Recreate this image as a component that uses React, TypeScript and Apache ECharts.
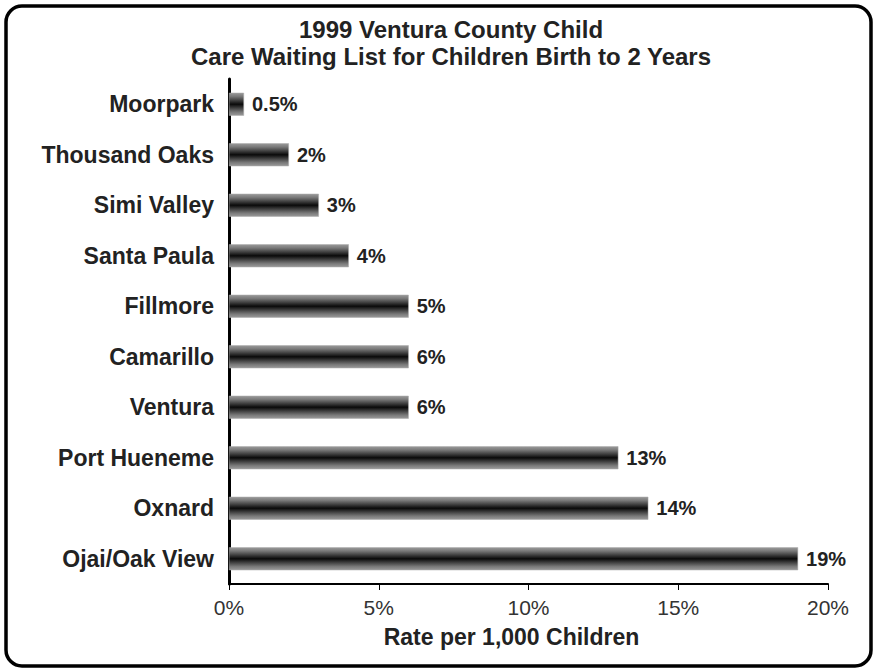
import React, { useEffect, useRef } from "react";
import * as echarts from "echarts";

const titleLines = ["1999 Ventura County Child", "Care Waiting List for Children Birth to 2 Years"];
const categories = [
  "Moorpark",
  "Thousand Oaks",
  "Simi Valley",
  "Santa Paula",
  "Fillmore",
  "Camarillo",
  "Ventura",
  "Port Hueneme",
  "Oxnard",
  "Ojai/Oak View",
];
const values = [0.5, 2, 3, 4, 6, 6, 6, 13, 14, 19];
const valueLabels = ["0.5%", "2%", "3%", "4%", "5%", "6%", "6%", "13%", "14%", "19%"];
const xTicks = [0, 5, 10, 15, 20];
const xAxisName = "Rate per 1,000 Children";

const FONT = "'Liberation Sans', Arial, sans-serif";

export default function App() {
  const ref = useRef<HTMLDivElement>(null);
  useEffect(() => {
    if (!ref.current) return;
    const chart = echarts.init(ref.current, null, { renderer: "svg" });
    const grad = new echarts.graphic.LinearGradient(0, 0, 0, 1, [
      { offset: 0, color: "#9a9a9a" },
      { offset: 0.15, color: "#7a7a7a" },
      { offset: 0.35, color: "#3a3a3a" },
      { offset: 0.5, color: "#0a0a0a" },
      { offset: 0.65, color: "#3a3a3a" },
      { offset: 0.85, color: "#7a7a7a" },
      { offset: 1, color: "#9a9a9a" },
    ]);
    chart.setOption({
      animation: false,
      backgroundColor: "#ffffff",
      title: {
        text: titleLines.join("\n"),
        left: 446,
        textAlign: "center",
        top: 11,
        textStyle: {
          fontFamily: FONT,
          fontSize: 24,
          fontWeight: "bold",
          color: "#222",
          lineHeight: 27,
        },
      },
      graphic: [
        {
          type: "rect",
          shape: { x: 6, y: 6, width: 865, height: 660, r: 16 },
          style: { fill: "none", stroke: "#000", lineWidth: 3.5 },
          silent: true,
          z: 100,
        },
      ],
      grid: { left: 229, right: 49, top: 79, bottom: 84, containLabel: false },
      xAxis: {
        type: "value",
        min: 0,
        max: 20,
        interval: 5,
        name: xAxisName,
        nameLocation: "middle",
        nameGap: 41,
        nameTextStyle: {
          fontFamily: FONT,
          fontSize: 23,
          fontWeight: "bold",
          color: "#222",
          padding: [0, 34, 0, 0],
        },
        axisLine: { show: true, lineStyle: { color: "#000", width: 2 } },
        axisTick: { show: true, length: 6, lineStyle: { color: "#000", width: 1 } },
        splitLine: { show: false },
        axisLabel: {
          fontFamily: FONT,
          fontSize: 21,
          color: "#333",
          margin: 13,
          formatter: (v: number) => (xTicks.includes(v) ? v + "%" : ""),
        },
      },
      yAxis: {
        type: "category",
        data: categories,
        inverse: true,
        axisLine: { show: true, lineStyle: { color: "#000", width: 3 } },
        axisTick: { show: false },
        axisLabel: {
          fontFamily: FONT,
          fontSize: 23,
          fontWeight: "bold",
          color: "#222",
          margin: 15,
        },
      },
      series: [
        {
          type: "bar",
          data: values,
          barWidth: 23,
          itemStyle: { color: grad, borderColor: "#aaa", borderWidth: 0.5 },
          label: {
            show: true,
            position: "right",
            distance: 8,
            fontFamily: FONT,
            fontSize: 20,
            fontWeight: "bold",
            color: "#222",
            formatter: (p: any) => valueLabels[p.dataIndex],
          },
        },
      ],
    });
    return () => chart.dispose();
  }, []);
  return (
    <div
      ref={ref}
      style={{ position: "absolute", left: 0, top: 0, width: 877, height: 668 }}
    />
  );
}
